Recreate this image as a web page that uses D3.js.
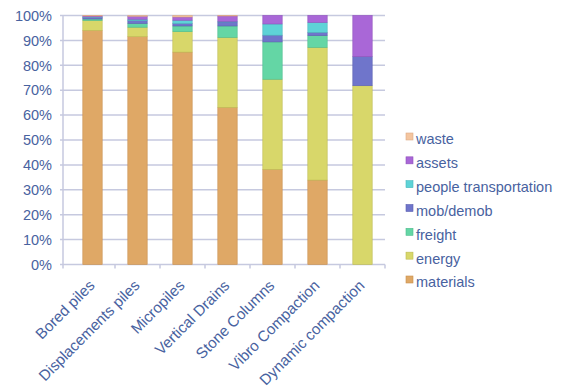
<!DOCTYPE html>
<html><head><meta charset="utf-8">
<script src="https://cdn.jsdelivr.net/npm/d3@7/dist/d3.min.js"></script>
<style>
html,body{margin:0;padding:0;background:#fff;}
svg{display:block;font-family:"Liberation Sans",Arial,sans-serif;}
</style></head>
<body>
<svg id="chart" width="561" height="391"></svg>
<script>
const categories = ["Bored piles","Displacements piles","Micropiles","Vertical Drains","Stone Columns","Vibro Compaction","Dynamic compaction"];
const seriesNames = ["materials","energy","freight","mob/demob","people transportation","assets","waste"];
const materials = [94.0, 91.5, 85.3, 63.1, 38.2, 33.9, 0];
const energy    = [4.0, 3.8, 8.2, 28.1, 36.2, 53.3, 71.8];
const freight   = [0.6, 1.5, 2.3, 4.6, 15.0, 4.7, 0];
const mobDemob  = [0.6, 1.2, 1.0, 1.6, 2.7, 1.3, 11.7];
const people    = [0.2, 0.5, 1.3, 0.2, 4.5, 4.0, 0];
const assets    = [0.4, 1.2, 1.3, 2.2, 3.4, 2.8, 16.5];
const waste     = [0.2, 0.3, 0.6, 0.2, 0.0, 0.0, 0];
const yTicks = [0,10,20,30,40,50,60,70,80,90,100];
const colors = ["#DFA866","#D8D76A","#64D6A5","#6F75CB","#5ED3D7","#A967D7","#F4C59F"];
const strokes = ["#C98F4E","#BDBB52","#4DBB8C","#5A5FB0","#48B8BC","#9050BC","#DDAA85"];

const seriesValues = [materials, energy, freight, mobDemob, people, assets, waste];
const rows = categories.map((c,i)=>{
  const r = {cat:c};
  seriesNames.forEach((s,k)=>{ r[s]=seriesValues[k][i]; });
  return r;
});
const stacked = d3.stack().keys(seriesNames)(rows);

const svg = d3.select("#chart");
const axisColor = "#C6C9DF";
const textColor = "#4862A0";
const plotL = 63, plotR = 385, plotT = 15.5, plotB = 264.5;

const x = d3.scaleBand().domain(categories).range([70, plotR]).padding(0);
const y = d3.scaleLinear().domain([0,100]).range([plotB, plotT]);
const barW = x.step()*0.43;

svg.append("g").selectAll("line").data(yTicks).join("line")
  .attr("x1", plotL-3).attr("x2", plotR)
  .attr("y1", d=>y(d)).attr("y2", d=>y(d))
  .attr("stroke", axisColor).attr("stroke-width", 1.5);
svg.append("line").attr("x1",plotL).attr("x2",plotL).attr("y1",plotT).attr("y2",plotB)
  .attr("stroke",axisColor).attr("stroke-width",1.5);
const xTickPos = [plotL].concat(categories.map(c=>x(c)+x.bandwidth()));
svg.append("g").selectAll("line").data(xTickPos).join("line")
  .attr("x1",d=>d).attr("x2",d=>d).attr("y1",plotB).attr("y2",plotB+4)
  .attr("stroke",axisColor).attr("stroke-width",1.5);

svg.append("g").selectAll("text").data(yTicks).join("text")
  .attr("x", 52).attr("y", d=>y(d)).attr("dy","0.36em")
  .attr("text-anchor","end").attr("fill",textColor)
  .attr("font-size","14.5px").text(d=>d+"%");

svg.append("g").selectAll("g").data(stacked).join("g")
  .attr("fill",(d,i)=>colors[i]).attr("stroke",(d,i)=>strokes[i])
  .selectAll("rect").data(d=>d.filter(p=>p[1]-p[0]>0)).join("rect")
  .attr("x", d=>x(d.data.cat)+(x.bandwidth()-barW)/2)
  .attr("width", barW)
  .attr("y", d=>y(d[1]))
  .attr("height", d=>y(d[0])-y(d[1]))
  .attr("stroke-width",0.6);

svg.append("g").selectAll("text").data(categories).join("text")
  .attr("transform", d=>`translate(${x(d)+x.bandwidth()/2+3},${plotB+22}) rotate(-45)`)
  .attr("text-anchor","end").attr("fill",textColor)
  .attr("font-size","15.2px").text(d=>d);

const legendOrder = seriesNames.slice().reverse();
const lg = svg.append("g");
const ly = d3.scalePoint().domain(legendOrder).range([140, 283]);
legendOrder.forEach(name=>{
  const i = seriesNames.indexOf(name);
  lg.append("rect").attr("x",406).attr("y",ly(name)-7).attr("width",7).attr("height",7)
    .attr("fill",colors[i]).attr("stroke",strokes[i]).attr("stroke-width",0.6);
  lg.append("text").attr("x",416).attr("y",ly(name)).attr("dy","0.3em")
    .attr("fill",textColor).attr("font-size","14.5px").text(name);
});
</script>
</body></html>
